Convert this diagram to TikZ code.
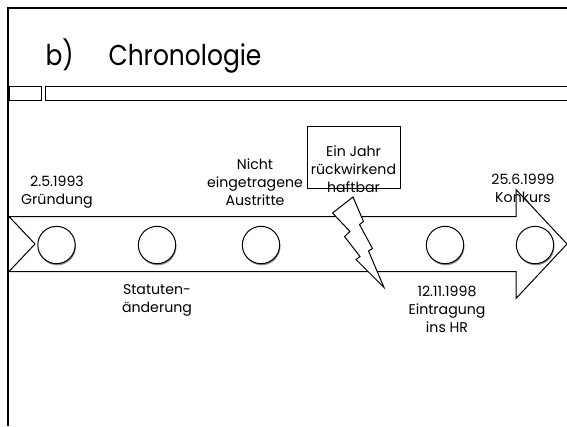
\documentclass[tikz,border=0pt]{standalone}
\usepackage{fontspec}
\setmainfont{Poppins}
\usetikzlibrary{shadows}

\tikzset{every picture/.style={line width=0.75pt}}
\tikzset{
  lbl/.style={inner sep=0.75pt, align=center, font=\fontsize{10.6}{13.6}\selectfont},
  dot/.style={draw, fill=white, circle, minimum size=28, inner sep=0pt,
    drop shadow={shadow xshift=0.6pt, shadow yshift=-1.2pt, opacity=0.45, fill=black}},
  ttl/.style={inner sep=0pt, anchor=base west, font=\fontsize{21.5}{26}\selectfont}
}

\begin{document}
\begin{tikzpicture}[x=0.75pt,y=0.75pt,yscale=-1,xscale=1]
  \useasboundingbox (0,0) rectangle (567,426);

  %Shape: Frame
  \draw [line width=2.2pt] (8,426) -- (8,8) -- (567,8) ;
  %Shape: Rectangle
  \draw  (9,86) -- (41.5,86) -- (41.5,100.5) -- (9,100.5) -- cycle ;
  %Shape: Rectangle
  \draw  (45,86) -- (570,86) -- (570,100.5) -- (45,100.5) -- cycle ;

  % Text Node
  \draw (45,65) node [ttl] (tb) {\scalebox{0.87}[1]{b)}};
  % Text Node
  \draw (108,65) node [ttl] (title) {\scalebox{0.87}[1]{Chronologie}};

  %Shape: Arrow
  \draw [fill=white] (9,216.5) -- (516,216.5) -- (516,189.5) -- (567,244) -- (516,298.5) -- (516,271.5) -- (9,271.5) -- (35,244) -- cycle ;

  %Shape: Circles
  \node [dot] (d1) at (56.5,245) {};
  \node [dot] (d2) at (157,245) {};
  \node [dot] (d3) at (261,245) {};
  \node [dot] (d4) at (445,245) {};
  \node [dot] (d5) at (535,245) {};

  %Shape: Rectangle
  \draw  (307,126) -- (400,126) -- (400,188) -- (307,188) -- cycle ;

  %Shape: Lightning
  \draw [fill=white] (353,197) -- (332.5,213) -- (350,231.5) -- (344.5,236.5) -- (360,256.5) -- (356,259.5) -- (384,287.5) -- (368.5,251) -- (372.5,248.5) -- (359.5,224.5) -- (363.5,221.5) -- cycle ;

  % Text Node
  \draw (57,192) node [lbl] (gruendung) {2.5.1993\\Gründung};
  % Text Node
  \draw (255,182) node [lbl] (austritte) {Nicht\\eingetragene\\Austritte};
  % Text Node
  \draw (157,300) node [lbl] (statuten) {Statuten-\\änderung};
  % Text Node
  \draw (353.5,169) node [lbl] (haftbar) {Ein Jahr\\rückwirkend\\haftbar};
  % Text Node
  \draw (523,188) node [lbl] (konkurs) {25.6.1999\\Konkurs};
  % Text Node
  \draw (447,309) node [lbl] (eintragung) {12.11.1998\\Eintragung\\ins HR};

\end{tikzpicture}
\end{document}
